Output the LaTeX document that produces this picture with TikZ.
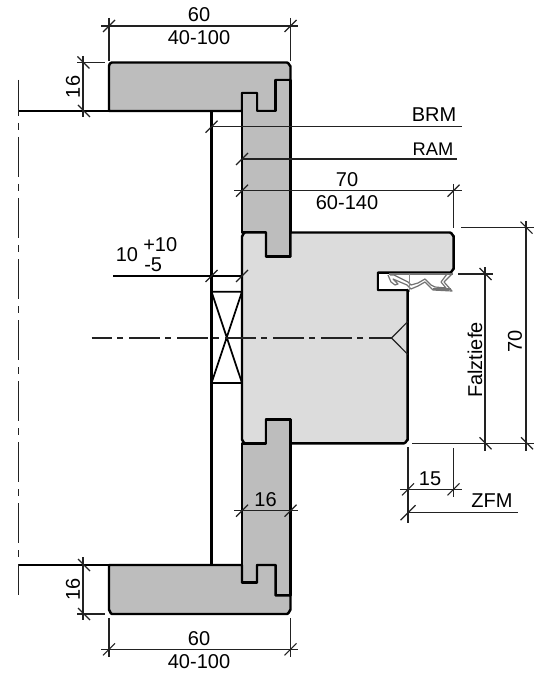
\documentclass[tikz,border=0pt]{standalone}
\usepackage{fontspec}
\setmainfont{Liberation Sans}
\definecolor{dk}{HTML}{BDBDBD}
\definecolor{lt}{HTML}{DCDCDC}
\definecolor{dimc}{HTML}{222222}
\newcommand{\tk}[2]{\draw[dimline] (#1-6,#2+6) -- (#1+6,#2-6);}
\newcommand{\tb}[2]{\draw[dimline] (#1-6,#2-6) -- (#1+6,#2+6);}
\tikzset{
  outl/.style={line width=1.85pt,line join=round,draw=black},
  dimline/.style={line width=0.85pt,draw=dimc},
  lbl/.style={inner sep=0pt,font=\fontsize{15}{15}\selectfont,text=black},
  lblsm/.style={lbl,font=\fontsize{13.7}{14}\selectfont},
  seal/.style={line width=0.9pt,draw=black!55,line join=round},
}
\begin{document}
\begin{tikzpicture}[x=0.75pt,y=-0.75pt]
\useasboundingbox (0,0) rectangle (538,673);
\fill[white] (0,0) rectangle (538,673);
% frame top
\draw[outl,fill=dk] (112,62.5) -- (287,62.5) to[out=0,in=-90] (290.5,66) -- (290.5,80) -- (275.5,80) -- (275.5,111) -- (257,111) -- (257,93) -- (242,93) -- (242,111) -- (109,111) -- (109,66) to[out=90,in=180] (112,62.5) -- cycle;
% vertical top
\draw[outl,fill=dk] (242,93) -- (257,93) -- (257,111) -- (275.5,111) -- (275.5,80) -- (290.5,80) -- (290.5,256.7) -- (266,256.7) -- (266,232.5) -- (242,232.5) -- cycle;
% sash
\draw[outl,fill=lt] (245,232.5) -- (266,232.5) -- (266,256.7) -- (290.5,256.7) -- (290.5,232.5) -- (450,232.5) to[out=0,in=-90] (453.7,236) -- (453.7,269) to[out=90,in=0] (450,272.7) -- (378,272.7) -- (378,290) -- (407.7,290) -- (407.7,440) to[out=90,in=0] (404,443.3) -- (290.5,443.3) -- (290.5,419.3) -- (266,419.3) -- (266,443.3) -- (245,443.3) to[out=180,in=90] (242,440) -- (242,236) to[out=-90,in=180] (245,232.5) -- cycle;
% vertical bottom
\draw[outl,fill=dk] (242,443.3) -- (266,443.3) -- (266,419.3) -- (290.5,419.3) -- (290.5,595.5) -- (275.5,595.5) -- (275.5,565) -- (257,565) -- (257,582.7) -- (242,582.7) -- cycle;
% frame bottom
\draw[outl,fill=dk] (109,565) -- (242,565) -- (242,582.7) -- (257,582.7) -- (257,565) -- (275.5,565) -- (275.5,595.5) -- (290.5,595.5) -- (290.5,610) to[out=90,in=0] (287,614) -- (112,614) to[out=180,in=90] (109,610) -- cycle;
% rebate opening
\fill[white] (379,274) rectangle (406.5,289);
\draw[outl] (378,272.7) -- (378,290) -- (407.7,290);
% seal
\draw[seal,line width=1.6pt] (389,273.6) -- (453,273.6);
\draw[seal] (388,275) -- (391,282) -- (395,285) -- (398,284) -- (393,279) -- (407,285) -- (411,289) -- (418,286) -- (425,282) -- (430,287) -- (433,290) -- (452,291) -- (444,282) -- (452,274);
\draw[seal] (390,275) -- (394,275) -- (408,282) -- (411,285) -- (418,283) -- (425,279) -- (431,285) -- (435,287) -- (446,288) -- (441,282) -- (447,274);
\draw[seal,line width=1.6pt] (433,289.3) -- (451,289.3);
\draw[seal,draw=black!45,line width=1.1pt] (409.3,274) -- (409.3,292);
% inner frame
\draw[outl] (211.5,111) -- (211.5,565);
\draw[outl] (18,111) -- (109,111);
\draw[outl] (18,565) -- (109,565);
% block
\draw[outl,line width=1.3pt] (211.5,291.7) -- (242,291.7) (211.5,383) -- (242,383) (211.5,291.7) -- (242,383) (242,291.7) -- (211.5,383);
% axes
\draw[dimline,dash pattern=on 23.25pt off 3.75pt on 4.5pt off 4.5pt,dash phase=8pt] (91.7,338) -- (391.5,338);
\draw[dimline,line width=1pt,dash pattern=on 30pt off 5.25pt on 5.25pt off 5.25pt,dash phase=3pt] (18.5,80) -- (18.5,595);
% triangle
\draw[dimline] (407.7,321.7) -- (391.5,338) -- (407.7,354.3);
% top dim
\draw[dimline] (101,26) -- (298,26) (109,18) -- (109,61) (290.5,18) -- (290.5,61);
\tk{109}{26}\tk{290.5}{26}
\node[lbl] (t60) at (199,15) {60};
\node[lbl] (t40) at (199,38) {40-100};
% left top dim
\draw[dimline] (83,56) -- (83,117) (77,62.5) -- (105,62.5);
\tb{83.5}{62.5}\tb{84}{111}
\node[lbl,rotate=90] (l16) at (73,87) {16};
% BRM
\draw[dimline] (211.5,126.7) -- (462,126.7);
\tk{211.5}{126.7}
\node[lbl] (brm) at (434,115) {BRM};
% RAM
\draw[dimline] (242,159) -- (457,159);
\tk{242}{159}
\node[lblsm] (ram) at (433,149) {RAM};
% 70
\draw[dimline] (234,190.7) -- (462,190.7) (453.5,184) -- (453.5,228);
\tk{242}{190.7}\tk{453.5}{190.7}
\node[lbl] (s70) at (347,180) {70};
\node[lbl] (s60) at (347,203) {60-140};
% right 70
\draw[dimline] (526,221) -- (526,451) (461,227.7) -- (534,227.7) (412,443.3) -- (534,443.3);
\tb{526.5}{227.7}\tb{527}{443.3}
\node[lbl,rotate=90] (r70) at (515,341) {70};
% Falztiefe
\draw[dimline] (485,267) -- (485,451) (458,274) -- (493,274);
\tb{485.5}{274}\tb{485.5}{443.3}
\node[lbl,rotate=90] (falz) at (475,360) {Falztiefe};
% 15
\draw[dimline] (400,489.3) -- (462,489.3) (408,447) -- (408,523) (453.5,448) -- (453.5,497);
\tk{408}{489.3}\tk{453.5}{489.3}
\node[lbl] (d15) at (430,479) {15};
% ZFM
\draw[dimline] (408,512.7) -- (518,512.7);
\draw[dimline] (400.5,520.2) -- (415.5,505.2);
\node[lbl] (zfm) at (492,500.7) {ZFM};
% 16 lower
\draw[dimline] (234,510.7) -- (298,510.7);
\tk{242}{510.7}\tk{290.5}{510.7}
\node[lbl] (m16) at (265.5,500) {16};
% 10
\draw[dimline,draw=black] (113,276) -- (242,276);
\tk{211.5}{276}\tk{242}{276}
\node[lbl] (p10) at (127,255) {10};
\node[lbl,anchor=west] (pp) at (143,245) {+10};
\node[lbl,anchor=west] (pm) at (144,265) {-5};
% bottom left dim
\draw[dimline] (83,557) -- (83,620) (77,614) -- (105,614);
\tb{84}{565}\tb{84}{614}
\node[lbl,rotate=90] (b16) at (73,589) {16};
% bottom dim
\draw[dimline] (101,649.3) -- (298,649.3) (109,618) -- (109,657) (290.5,618) -- (290.5,657);
\tk{109}{649.3}\tk{290.5}{649.3}
\node[lbl] (b60) at (199,639) {60};
\node[lbl] (b40) at (199,662) {40-100};
\end{tikzpicture}
\end{document}
